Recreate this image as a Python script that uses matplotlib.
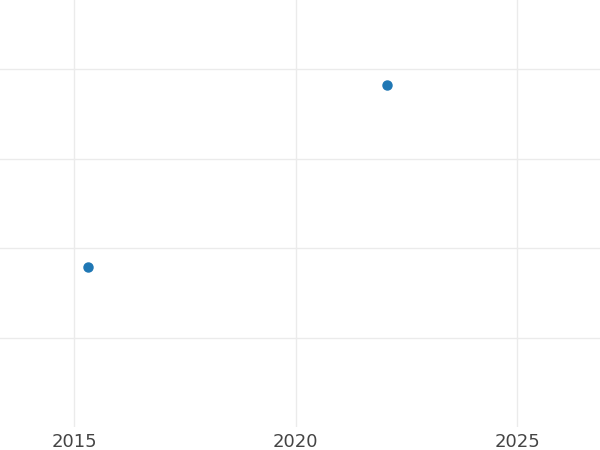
import matplotlib
matplotlib.use("Agg")
import matplotlib.pyplot as plt

years = [2015.32, 2022.06]
values = [1.79, 3.82]
xticks = [2015, 2020, 2025]
xtick_labels = ["2015", "2020", "2025"]
yticks = [1, 2, 3, 4]

fig = plt.figure(figsize=(6, 4.5), dpi=100)
ax = fig.add_axes([0, 23/450, 1, 427/450])
ax.plot(years, values, 'o', color='#1f77b4', markersize=6.5, zorder=3)
ax.set_xlim(2013.33, 2026.87)
ax.set_ylim(0.008, 4.77)
ax.set_xticks(xticks)
ax.set_xticklabels(xtick_labels)
ax.set_yticks(yticks)
ax.tick_params(axis='y', left=False, labelleft=False)
ax.tick_params(axis='x', length=0, pad=4, labelsize=13, labelcolor='#444444')
ax.grid(True, color='#ebebeb', linewidth=1.0)
ax.set_axisbelow(True)
for s in ax.spines.values():
    s.set_visible(False)
fig.savefig("out.png", dpi=100)
